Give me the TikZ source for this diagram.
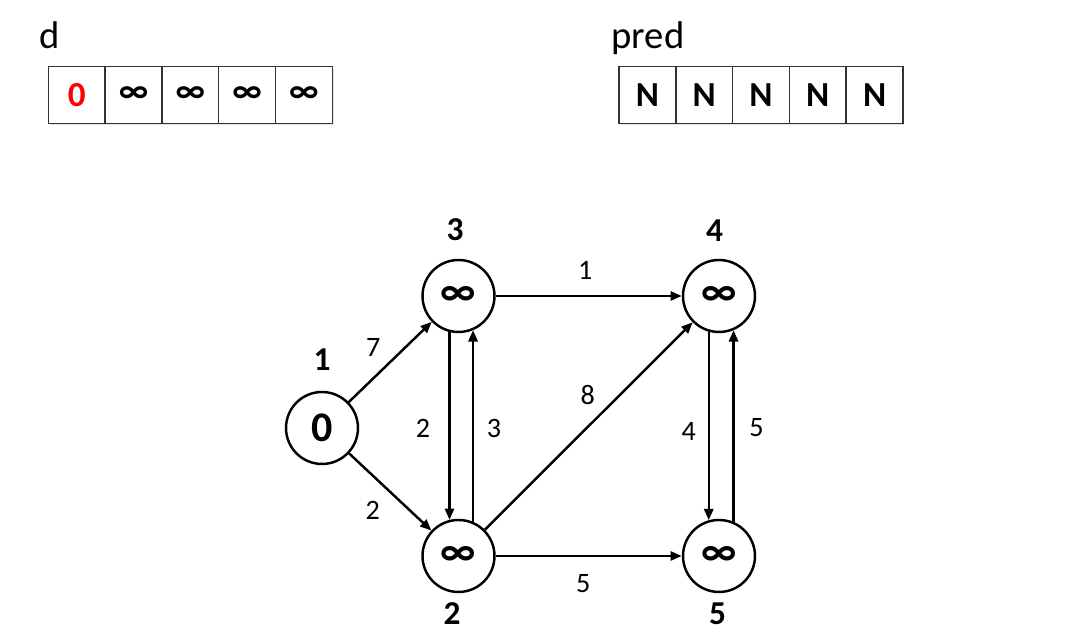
\documentclass[tikz,border=0pt]{standalone}
\usepackage{fontspec}
\setmainfont{Carlito}
\usetikzlibrary{arrows.meta, positioning, shadows}

\begin{document}
\begin{tikzpicture}[>={Triangle[length=3.2pt, width=2.6pt]},
	vertex/.style={draw, circle, line width=0.7pt, minimum size=0.72cm, inner sep=0pt, font=\fontsize{12}{13}\selectfont\bfseries},
	vname/.style={inner sep=0pt, font=\fontsize{9.5}{10}\selectfont\bfseries},
	cell/.style={draw=black!80, fill=white, line width=0.45pt, minimum size=0.568cm, inner sep=0pt, font=\fontsize{10}{11}\selectfont\bfseries, drop shadow={opacity=0.2, shadow xshift=0.4pt, shadow yshift=-0.6pt}},
	edge/.style={->, line width=0.7pt},
	weight/.style={inner sep=0pt, font=\fontsize{8}{9}\selectfont}]
		\useasboundingbox (0,0) rectangle (10.9,6.3);
		% arrays
		\node[anchor=base west, inner sep=0pt, font=\fontsize{11}{12}\selectfont] (dname) at (0.39,5.81) {d};
		\node[anchor=base west, inner sep=0pt, font=\fontsize{11}{12}\selectfont] (pname) at (6.11,5.81) {pred};
		\foreach \v [count=\i] in {{\textcolor{red}{0}},∞,∞,∞,∞}
			\node[cell] (d\i) at ({0.767+0.568*(\i-1)},5.35) {\v};
		\foreach \i in {1,...,5}
			\node[cell] (p\i) at ({6.474+0.568*(\i-1)},5.35) {N};
		% graph
		\node[vertex, label={[vname, label distance=0.2cm]above:1}] (n1) at (3.22,2.02) {0};
		\node[vertex, label={[vname, label distance=0.17cm, xshift=-0.035cm]above:3}] (n3) at (4.585,3.34) {∞};
		\node[vertex, label={[vname, label distance=0.17cm, xshift=-0.045cm]above:4}] (n4) at (7.19,3.34) {∞};
		\node[vertex, label={[vname, label distance=0.09cm, xshift=-0.065cm]below:2}] (n2) at (4.585,0.74) {∞};
		\node[vertex, label={[vname, label distance=0.09cm, xshift=-0.015cm]below:5}] (n5) at (7.19,0.74) {∞};
		\draw[edge] (n1) -- node[weight, xshift=-0.17cm, yshift=0.15cm]{7} (n3);
		\draw[edge] (n1) -- node[weight, xshift=-0.175cm, yshift=-0.18cm]{2} (n2);
		\draw[edge] (n3) -- node[weight, xshift=-0.035cm, yshift=0.26cm]{1} (n4);
		\draw[edge] (n3.256) -- node[weight, xshift=-0.265cm, yshift=-0.02cm]{2} (n2.104);
		\draw[edge] (n2.67) -- node[weight, xshift=0.21cm, yshift=-0.02cm]{3} (n3.293);
		\draw[edge] (n2) -- node[weight, xshift=-0.01cm, yshift=0.31cm]{8} (n4);
		\draw[edge] (n4.254) -- node[weight, xshift=-0.2cm, yshift=-0.05cm]{4} (n5.106);
		\draw[edge] (n5.67) -- node[weight, xshift=0.23cm, yshift=-0.02cm]{5} (n4.293);
		\draw[edge] (n2) -- node[weight, xshift=-0.055cm, yshift=-0.28cm]{5} (n5);
	\end{tikzpicture}
\end{document}
